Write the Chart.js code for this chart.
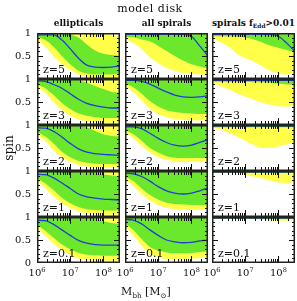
<!DOCTYPE html>
<html lang="en">
<head>
<meta charset="UTF-8">
<title>model disk</title>
<script src="https://cdn.jsdelivr.net/npm/chart.js@4"></script>
<style>
  body { margin: 0; background: #fff; }
  #wrap { position: relative; width: 297px; height: 301px; font-family: "DejaVu Serif", serif; color: #111; }
  .panel { position: absolute; width: 83px; height: 46px; }
  .t { position: absolute; white-space: nowrap; line-height: 1; z-index: 2; }
  .c { transform: translate(-50%, -50%); }
  .r { transform: translate(-100%, -50%); }
  sup, sub { font-size: 65%; line-height: 0; }
</style>
</head>
<body>
<div id="wrap"></div>

<script>
// log10(M_bh / M_sun) sample points
const logM = [6, 6.25, 6.5, 6.75, 7, 7.25, 7.5, 7.75, 8, 8.25, 8.5];
const redshifts = ['z=5', 'z=3', 'z=2', 'z=1', 'z=0.1'];
const columns = ['ellipticals', 'all spirals', 'spirals f<sub>Edd</sub>&gt;0.01'];

// ellipticals, rows z=5,3,2,1,0.1
const ellBlue = [
  [0.96, 0.96, 0.96, 0.85, 0.66, 0.45, 0.30, 0.26, 0.25, 0.26, 0.28],
  [0.96, 0.95, 0.88, 0.80, 0.68, 0.56, 0.47, 0.42, 0.39, 0.37, 0.37],
  [0.94, 0.93, 0.86, 0.74, 0.60, 0.48, 0.41, 0.38, 0.36, 0.35, 0.34],
  [0.93, 0.92, 0.85, 0.74, 0.62, 0.50, 0.44, 0.41, 0.39, 0.38, 0.37],
  [0.93, 0.92, 0.84, 0.72, 0.60, 0.49, 0.43, 0.40, 0.39, 0.39, 0.39]
];
const ellGreenHi = [
  [1, 1, 1, 1, 0.97, 0.9, 0.75, 0.62, 0.55, 0.52, 0.50],
  [1, 1, 1, 1, 1, 0.98, 0.92, 0.85, 0.78, 0.72, 0.70],
  [1, 1, 1, 1, 1, 1, 0.95, 0.87, 0.80, 0.76, 0.75],
  [1, 1, 1, 1, 1, 1, 1, 0.97, 0.93, 0.90, 0.88],
  [1, 1, 1, 1, 1, 1, 1, 0.96, 0.91, 0.87, 0.85]
];
const ellGreenLo = [
  [0.92, 0.85, 0.70, 0.50, 0.32, 0.18, 0.12, 0.10, 0.10, 0.10, 0.12],
  [0.88, 0.80, 0.65, 0.48, 0.35, 0.25, 0.20, 0.17, 0.15, 0.15, 0.15],
  [0.86, 0.75, 0.60, 0.42, 0.30, 0.22, 0.18, 0.16, 0.15, 0.15, 0.15],
  [0.85, 0.73, 0.58, 0.42, 0.30, 0.22, 0.17, 0.15, 0.14, 0.14, 0.14],
  [0.83, 0.70, 0.55, 0.40, 0.30, 0.22, 0.18, 0.17, 0.16, 0.16, 0.16]
];
const ellYellowHi = [
  [1, 1, 1, 1, 1, 1, 1, 1, 1, 0.96, 0.90],
  [1, 1, 1, 1, 1, 1, 1, 1, 1, 1, 1],
  [1, 1, 1, 1, 1, 1, 1, 1, 1, 1, 1],
  [1, 1, 1, 1, 1, 1, 1, 1, 1, 1, 1],
  [1, 1, 1, 1, 1, 1, 1, 1, 1, 1, 1]
];
const ellYellowLo = [
  [0.85, 0.70, 0.50, 0.32, 0.20, 0.10, 0.05, 0.04, 0.04, 0.04, 0.05],
  [0.82, 0.70, 0.50, 0.33, 0.20, 0.12, 0.08, 0.06, 0.05, 0.05, 0.05],
  [0.80, 0.65, 0.45, 0.30, 0.20, 0.13, 0.10, 0.08, 0.07, 0.07, 0.07],
  [0.78, 0.62, 0.45, 0.30, 0.20, 0.12, 0.08, 0.06, 0.05, 0.05, 0.05],
  [0.75, 0.60, 0.42, 0.28, 0.18, 0.10, 0.07, 0.05, 0.05, 0.05, 0.05]
];

// all spirals
const allBlue = [
  [0.97, 0.97, 0.97, 0.97, 0.97, 0.97, 0.97, 0.97, 0.93, 0.72, 0.50],
  [0.97, 0.97, 0.95, 0.89, 0.80, 0.72, 0.65, 0.61, 0.60, 0.61, 0.64],
  [0.96, 0.96, 0.92, 0.82, 0.71, 0.62, 0.56, 0.54, 0.56, 0.62, 0.68],
  [0.95, 0.94, 0.88, 0.78, 0.66, 0.57, 0.52, 0.50, 0.52, 0.57, 0.63],
  [0.95, 0.93, 0.85, 0.72, 0.60, 0.50, 0.46, 0.44, 0.45, 0.48, 0.50]
];
const allGreenHi = [
  [1, 1, 1, 1, 1, 1, 1, 1, 1, 1, 1],
  [1, 1, 1, 1, 1, 1, 1, 1, 1, 1, 1],
  [1, 1, 1, 1, 1, 1, 1, 1, 1, 1, 1],
  [1, 1, 1, 1, 1, 1, 1, 1, 1, 1, 1],
  [1, 1, 1, 1, 1, 1, 1, 1, 1, 1, 1]
];
const allGreenLo = [
  [0.92, 0.90, 0.86, 0.82, 0.72, 0.61, 0.50, 0.40, 0.32, 0.27, 0.23],
  [0.90, 0.82, 0.68, 0.52, 0.40, 0.32, 0.28, 0.26, 0.25, 0.24, 0.24],
  [0.89, 0.80, 0.66, 0.50, 0.40, 0.32, 0.29, 0.28, 0.28, 0.28, 0.28],
  [0.88, 0.78, 0.62, 0.48, 0.38, 0.31, 0.28, 0.27, 0.26, 0.26, 0.26],
  [0.86, 0.72, 0.52, 0.35, 0.27, 0.23, 0.21, 0.21, 0.22, 0.24, 0.25]
];
const allYellowHi = allGreenHi;
const allYellowLo = [
  [0.88, 0.78, 0.65, 0.47, 0.35, 0.24, 0.18, 0.13, 0.11, 0.10, 0.09],
  [0.85, 0.72, 0.54, 0.36, 0.24, 0.17, 0.13, 0.11, 0.10, 0.10, 0.10],
  [0.83, 0.72, 0.55, 0.40, 0.30, 0.24, 0.21, 0.20, 0.20, 0.20, 0.20],
  [0.82, 0.68, 0.50, 0.36, 0.26, 0.20, 0.17, 0.16, 0.15, 0.15, 0.15],
  [0.80, 0.60, 0.38, 0.20, 0.12, 0.09, 0.08, 0.08, 0.09, 0.11, 0.13]
];

// spirals with f_Edd > 0.01
const eddBlue = [
  [0.97, 0.97, 0.97, 0.97, 0.97, 0.97, 0.97, 0.97, 0.93, 0.78, 0.60],
  [0.97, 0.97, 0.97, 0.97, 0.97, 0.97, 0.97, 0.97, 0.97, 0.97, 0.97],
  [0.98, 0.98, 0.98, 0.98, 0.98, 0.98, 0.98, 0.98, 0.98, 0.98, 0.98],
  [0.98, 0.98, 0.98, 0.98, 0.98, 0.98, 0.98, 0.98, 0.98, 0.98, 0.98],
  [0.98, 0.98, 0.98, 0.98, 0.98, 0.98, 0.98, 0.98, 0.98, 0.98, 0.98]
];
const eddGreenHi = [
  [1, 1, 1, 1, 1, 1, 1, 1, 1, 1, 1],
  [1, 1, 1, 1, 1, 1, 1, 1, 1, 1, 1],
  [1, 1, 1, 1, 1, 1, 1, 1, 1, 1, 1],
  [1, 1, 1, 1, 1, 1, 1, 1, 1, 1, 1],
  [1, 1, 1, 1, 1, 1, 1, 1, 1, 1, 1]
];
const eddGreenLo = [
  [0.93, 0.93, 0.93, 0.92, 0.90, 0.86, 0.80, 0.73, 0.68, 0.63, 0.58],
  [0.94, 0.94, 0.94, 0.94, 0.94, 0.93, 0.93, 0.92, 0.90, 0.88, 0.87],
  [0.95, 0.95, 0.95, 0.95, 0.95, 0.95, 0.95, 0.95, 0.95, 0.95, 0.95],
  [0.96, 0.96, 0.96, 0.96, 0.96, 0.96, 0.96, 0.96, 0.96, 0.96, 0.96],
  [0.96, 0.96, 0.96, 0.96, 0.96, 0.96, 0.96, 0.96, 0.96, 0.96, 0.96]
];
const eddYellowHi = eddGreenHi;
const eddYellowLo = [
  [0.88, 0.80, 0.70, 0.55, 0.45, 0.38, 0.28, 0.18, 0.12, 0.10, 0.12],
  [0.90, 0.85, 0.77, 0.69, 0.62, 0.55, 0.49, 0.44, 0.41, 0.40, 0.42],
  [0.94, 0.90, 0.83, 0.75, 0.66, 0.57, 0.50, 0.50, 0.53, 0.58, 0.62],
  [0.97, 0.97, 0.96, 0.95, 0.92, 0.88, 0.84, 0.79, 0.75, 0.74, 0.76],
  [0.97, 0.97, 0.97, 0.96, 0.96, 0.95, 0.94, 0.93, 0.92, 0.92, 0.93]
];

const columnData = [
  [ellYellowHi, ellYellowLo, ellGreenHi, ellGreenLo, ellBlue],
  [allYellowHi, allYellowLo, allGreenHi, allGreenLo, allBlue],
  [eddYellowHi, eddYellowLo, eddGreenHi, eddGreenLo, eddBlue]
];

const YELLOW = '#ffff4a';
const GREEN = '#6ce82c';
const BLUE = '#1f3fd6';

const colLeft = [37, 125, 212];
const rowTop = [33, 79, 125, 171, 217];
const panelW = 83, panelH = 46;

const wrap = document.getElementById('wrap');

function addText(html, x, y, cls, style) {
  const d = document.createElement('div');
  d.className = 't ' + cls;
  d.innerHTML = html;
  d.style.left = x + 'px';
  d.style.top = y + 'px';
  Object.assign(d.style, style || {});
  wrap.appendChild(d);
}

// frame and inward ticks on all four sides
const framePlugin = {
  id: 'frame',
  afterDatasetsDraw(chart) {
    const { ctx, chartArea: a, scales: { x, y } } = chart;
    ctx.save();
    ctx.strokeStyle = '#111';
    ctx.lineWidth = 1;
    ctx.beginPath();
    for (let d = 6; d <= 8; d++) {
      for (let k = 1; k <= 9; k++) {
        const v = d + Math.log10(k);
        if (v > x.max) break;
        const px = Math.round(x.getPixelForValue(v)) + 0.5;
        const len = k === 1 ? 7 : 4;
        ctx.moveTo(px, a.top); ctx.lineTo(px, a.top + len);
        ctx.moveTo(px, a.bottom); ctx.lineTo(px, a.bottom - len);
      }
    }
    for (let i = 0; i <= 10; i++) {
      const py = Math.round(y.getPixelForValue(i / 10)) + 0.5;
      const len = i % 5 === 0 ? 6 : 3;
      ctx.moveTo(a.left, py); ctx.lineTo(a.left + len, py);
      ctx.moveTo(a.right, py); ctx.lineTo(a.right - len, py);
    }
    ctx.stroke();
    ctx.lineWidth = 1.5;
    ctx.strokeStyle = '#222';
    ctx.strokeRect(a.left + 0.75, a.top + 0.75, a.right - a.left - 1.5, a.bottom - a.top - 1.5);
    ctx.restore();
  }
};

function pts(arr) {
  return arr.map((v, i) => ({ x: logM[i], y: v }));
}

for (let c = 0; c < 3; c++) {
  for (let r = 0; r < 5; r++) {
    const [yHi, yLo, gHi, gLo, blue] = columnData[c].map(a => a[r]);
    const box = document.createElement('div');
    box.className = 'panel';
    box.style.left = colLeft[c] + 'px';
    box.style.top = rowTop[r] + 'px';
    const cv = document.createElement('canvas');
    cv.width = panelW; cv.height = panelH;
    box.appendChild(cv);
    wrap.appendChild(box);

    const band = { pointRadius: 0, borderWidth: 0, cubicInterpolationMode: 'monotone' };
    new Chart(cv, {
      type: 'line',
      data: {
        datasets: [
          { ...band, data: pts(yHi), fill: false, order: 3 },
          { ...band, data: pts(yLo), fill: 0, backgroundColor: YELLOW, order: 3 },
          { ...band, data: pts(gHi), fill: false, order: 2 },
          { ...band, data: pts(gLo), fill: 2, backgroundColor: GREEN, order: 2 },
          { data: pts(blue), borderColor: BLUE, borderWidth: 1.3, pointRadius: 0,
            fill: false, cubicInterpolationMode: 'monotone', order: 1 }
        ]
      },
      options: {
        responsive: false,
        animation: false,
        events: [],
        layout: { padding: 0 },
        plugins: { legend: { display: false }, tooltip: { enabled: false } },
        scales: {
          x: { type: 'linear', min: 6, max: 8.5, display: false },
          y: { min: 0, max: 1, display: false }
        }
      },
      plugins: [framePlugin]
    });

    addText(redshifts[r], colLeft[c] + 6, rowTop[r] + panelH - 15, '', { fontSize: '11px' });
  }
}

// titles
addText('model disk', 150, 8, 'c', { fontSize: '11px', letterSpacing: '0.5px' });
columns.forEach((t, c) => addText(t, colLeft[c] + panelW / 2, 23, 'c', { fontSize: '9px', fontWeight: 'bold' }));

// y tick labels
rowTop.forEach(t => {
  addText('1', 31, t, 'r', { fontSize: '10px' });
  addText('0.5', 31, t + panelH / 2, 'r', { fontSize: '10px' });
});
addText('0', 31, rowTop[4] + panelH, 'r', { fontSize: '10px' });
addText('spin', 9, 148, 'c', { fontSize: '12px', transform: 'translate(-50%,-50%) rotate(-90deg)' });

// x tick labels
const xTicks = [6, 7, 8];
colLeft.forEach(l => {
  xTicks.forEach(p => addText('10<sup>' + p + '</sup>', l + (p - 6) * panelW / 2.5, 273, 'c', { fontSize: '10px' }));
});
addText('M<sub>bh</sub> [M<sub>&#x2299;</sub>]', 146, 291, 'c', { fontSize: '11px' });
</script>
</body>
</html>
